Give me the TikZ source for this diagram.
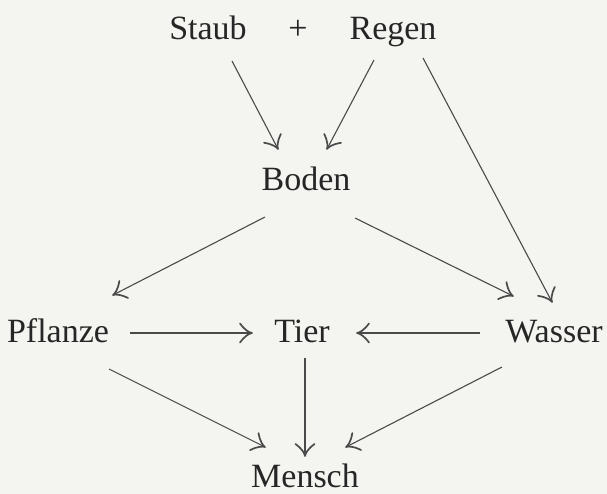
\documentclass[tikz,border=0pt]{standalone}
\usepackage{fontspec}
\setmainfont{Liberation Serif}
\usetikzlibrary{arrows.meta}
\definecolor{paper}{HTML}{F4F4F1}
\definecolor{ink}{HTML}{262626}
\definecolor{rule}{HTML}{4A4A4A}

% a curved two-barb head, like the classic printer's arrow
\pgfdeclarearrow{
  name = barbtip,
  parameters = {\the\pgfarrowlength,\the\pgfarrowwidth},
  setup code = {
    \pgfarrowssettipend{0pt}
    \pgfarrowssetlineend{-2pt}
    \pgfarrowssavethe\pgfarrowlength
    \pgfarrowssavethe\pgfarrowwidth
    \pgfarrowshullpoint{0pt}{0pt}
    \pgfarrowshullpoint{-\pgfarrowlength}{.5\pgfarrowwidth}
    \pgfarrowshullpoint{-\pgfarrowlength}{-.5\pgfarrowwidth}
  },
  drawing code = {
    \pgfsetdash{}{0pt}
    \pgfsetroundcap
    \pgfsetroundjoin
    \pgfsetlinewidth{1.7pt}
    \pgfpathmoveto{\pgfqpoint{-\pgfarrowlength}{.5\pgfarrowwidth}}
    \pgfpathcurveto{\pgfqpoint{-.55\pgfarrowlength}{.12\pgfarrowwidth}}
                   {\pgfqpoint{-.2\pgfarrowlength}{.02\pgfarrowwidth}}
                   {\pgfqpoint{0pt}{0pt}}
    \pgfpathcurveto{\pgfqpoint{-.2\pgfarrowlength}{-.02\pgfarrowwidth}}
                   {\pgfqpoint{-.55\pgfarrowlength}{-.12\pgfarrowwidth}}
                   {\pgfqpoint{-\pgfarrowlength}{-.5\pgfarrowwidth}}
    \pgfusepathqstroke
  },
  defaults = {length = 12pt, width = 19pt}
}

\begin{document}
\begin{tikzpicture}[x=1pt,y=-1pt,
  word/.style={anchor=base,inner sep=0pt,text=ink,font=\fontsize{34}{34}\selectfont},
  link/.style={draw=rule,line width=1.1pt,arrows={-barbtip}}]
  % paper
  \fill[paper] (0,0) rectangle (607,494);
  \useasboundingbox (0,0) rectangle (607,494);

  % terms
  \node[word] (staub)   at (208,40)  {Staub};
  \node[word] (plus)    at (298,40)  {+};
  \node[word] (regen)   at (393,40)  {Regen};
  \node[word] (boden)   at (306,191) {Boden};
  \node[word] (pflanze) at (58,342)  {Pflanze};
  \node[word] (tier)    at (302,342) {Tier};
  \node[word] (wasser)  at (554,342) {Wasser};
  \node[word] (mensch)  at (305,487) {Mensch};

  % relations
  \draw[link] ([shift={(24,21)}]staub.base)   -- ([shift={(-28,-42)}]boden.base);
  \draw[link] ([shift={(-19,20)}]regen.base)  -- ([shift={(21,-42)}]boden.base);
  \draw[link] ([shift={(30,18)}]regen.base)   -- ([shift={(-2,-40)}]wasser.base);
  \draw[link] ([shift={(-41,26)}]boden.base)  -- ([shift={(55,-47)}]pflanze.base);
  \draw[link] ([shift={(49,27)}]boden.base)   -- ([shift={(-41,-46)}]wasser.base);
  \draw[link] ([shift={(72,-9)}]pflanze.base) -- ([shift={(-50,-9)}]tier.base);
  \draw[link] ([shift={(-74,-9)}]wasser.base) -- ([shift={(55,-9)}]tier.base);
  \draw[link] ([shift={(3,16)}]tier.base)     -- ([shift={(0,-31)}]mensch.base);
  \draw[link] ([shift={(51,27)}]pflanze.base) -- ([shift={(-40,-40)}]mensch.base);
  \draw[link] ([shift={(-52,25)}]wasser.base) -- ([shift={(41,-40)}]mensch.base);
\end{tikzpicture}
\end{document}
